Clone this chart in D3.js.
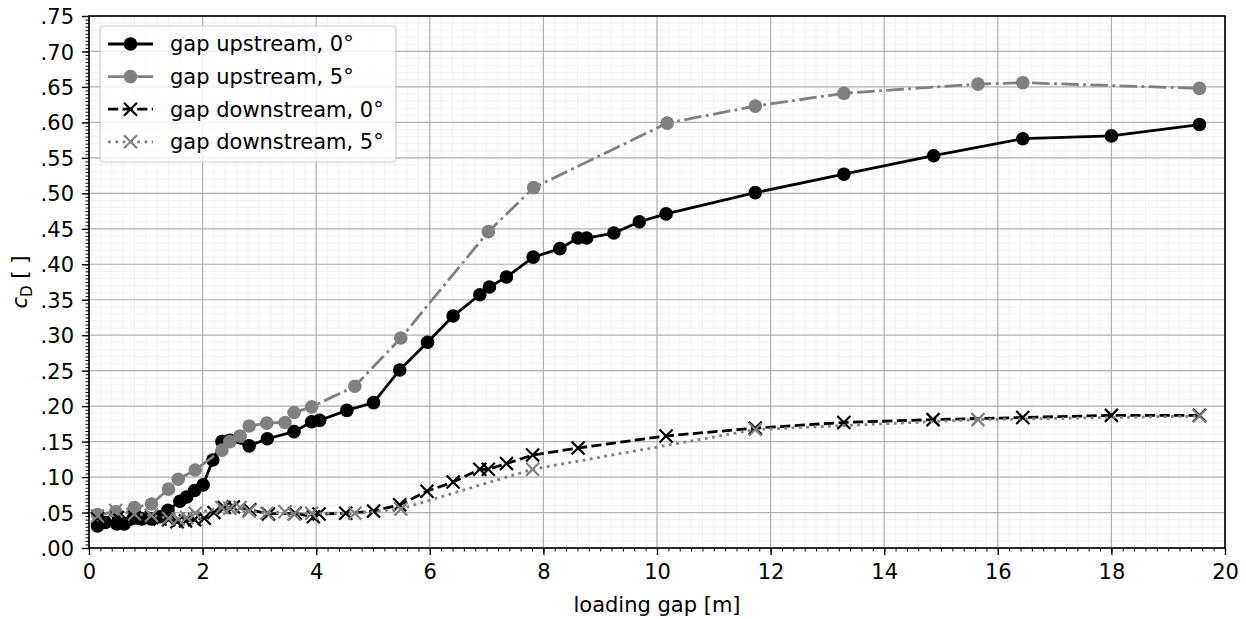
<!DOCTYPE html>
<html>
<head>
<meta charset="utf-8">
<script src="https://cdn.jsdelivr.net/npm/d3@7"></script>
<style>
  html, body { margin: 0; padding: 0; background: #fff; }
  svg { display: block; font-family: "DejaVu Sans", sans-serif; }
</style>
</head>
<body>
<svg id="chart" width="1246" height="619"></svg>
<script>
// Drag coefficient vs. loading gap, four configurations
const upstream0 = [
  [0.15,.031],[0.29,.036],[0.49,.034],[0.62,.034],[0.78,.042],[0.93,.041],[1.10,.041],
  [1.25,.044],[1.39,.053],[1.60,.066],[1.72,.072],[1.86,.081],[2.01,.089],[2.18,.124],
  [2.34,.150],[2.48,.152],[2.82,.144],[3.14,.154],[3.61,.164],[3.92,.178],[4.06,.180],
  [4.54,.194],[5.01,.205],[5.47,.251],[5.96,.290],[6.41,.327],[6.88,.357],[7.05,.368],
  [7.35,.382],[7.82,.410],[8.29,.422],[8.61,.437],[8.76,.437],[9.24,.444],[9.69,.460],
  [10.16,.471],[11.73,.501],[13.29,.527],[14.87,.553],[16.44,.577],[18.00,.581],[19.55,.597]
];
const upstream5 = [
  [0.15,.047],[0.47,.051],[0.80,.057],[1.10,.062],[1.40,.083],[1.57,.097],[1.87,.110],
  [2.34,.138],[2.48,.150],[2.66,.158],[2.82,.172],[3.13,.176],[3.45,.177],[3.61,.191],
  [3.92,.199],[4.68,.228],[5.49,.296],[7.03,.446],[7.83,.508],[10.18,.599],[11.73,.623],
  [13.29,.641],[15.65,.654],[16.44,.656],[19.55,.648]
];
const downstream0 = [
  [0.15,.042],[0.30,.040],[0.50,.043],[0.65,.041],[0.80,.043],[0.95,.042],[1.10,.043],
  [1.25,.041],[1.40,.040],[1.55,.037],[1.70,.038],[1.86,.040],[2.03,.042],[2.20,.050],
  [2.38,.057],[2.54,.058],[2.83,.054],[3.16,.048],[3.63,.049],[3.95,.044],[4.05,.048],
  [4.52,.049],[5.01,.052],[5.47,.061],[5.95,.080],[6.41,.093],[6.88,.111],[7.03,.111],
  [7.35,.119],[7.81,.131],[8.61,.141],[10.16,.158],[11.73,.169],[13.29,.177],[14.86,.181],
  [16.44,.184],[18.00,.187],[19.55,.187]
];
const downstream5 = [
  [0.15,.045],[0.47,.053],[0.80,.048],[1.10,.046],[1.40,.042],[1.57,.041],[1.72,.043],
  [1.87,.049],[2.34,.057],[2.48,.056],[2.66,.057],[2.82,.052],[3.13,.049],[3.45,.051],
  [3.61,.048],[3.92,.049],[4.68,.049],[5.49,.055],[7.81,.111],[11.73,.167],[15.65,.181],
  [19.55,.186]
];

const seriesNames = ["gap upstream, 0°", "gap upstream, 5°", "gap downstream, 0°", "gap downstream, 5°"];
const xTickValues = d3.range(0, 21, 2);
const yTickValues = d3.range(0, 16).map(i => i * 0.05);

const styles = [
  { data: upstream0,   color: "#000000", dash: null,              marker: "circle" },
  { data: upstream5,   color: "#808080", dash: "17.6,4.4,2.8,4.4", marker: "circle" },
  { data: downstream0, color: "#000000", dash: "10.2,4.4",        marker: "x" },
  { data: downstream5, color: "#808080", dash: "2.8,4.5",         marker: "x" }
];

const FONT = "21px";
const svg = d3.select("#chart");
const m = { left: 89, right: 1225, top: 16, bottom: 548 };

const x = d3.scaleLinear().domain([0, 20]).range([m.left, m.right]);
const y = d3.scaleLinear().domain([0, 0.75]).range([m.bottom, m.top]);

// minor grid
const gMinor = svg.append("g");
d3.range(0, 101).map(i => i * 0.2).forEach(v => {
  gMinor.append("line").attr("x1", x(v)).attr("x2", x(v)).attr("y1", m.top).attr("y2", m.bottom)
    .attr("stroke", "#eeeeee").attr("stroke-width", 0.8);
});
d3.range(0, 76).map(i => i * 0.01).forEach(v => {
  gMinor.append("line").attr("x1", m.left).attr("x2", m.right).attr("y1", y(v)).attr("y2", y(v))
    .attr("stroke", "#eeeeee").attr("stroke-width", 0.8);
});

// major grid
const gMajor = svg.append("g");
xTickValues.forEach(v => {
  gMajor.append("line").attr("x1", x(v)).attr("x2", x(v)).attr("y1", m.top).attr("y2", m.bottom)
    .attr("stroke", "#b0b0b0").attr("stroke-width", 1.2);
});
yTickValues.forEach(v => {
  gMajor.append("line").attr("x1", m.left).attr("x2", m.right).attr("y1", y(v)).attr("y2", y(v))
    .attr("stroke", "#b0b0b0").attr("stroke-width", 1.2);
});

// series
const line = d3.line().x(d => x(d[0])).y(d => y(d[1]));
const xMark = s => `M${-s},${-s}L${s},${s}M${-s},${s}L${s},${-s}`;

function drawMarker(g, marker, color, px, py) {
  if (marker === "circle") {
    g.append("circle").attr("cx", px).attr("cy", py).attr("r", 6.8).attr("fill", color);
  } else {
    g.append("path").attr("d", xMark(6.5)).attr("transform", `translate(${px},${py})`)
      .attr("fill", "none").attr("stroke", color).attr("stroke-width", 2.2);
  }
}

styles.forEach(s => {
  const g = svg.append("g");
  g.append("path").datum(s.data).attr("d", line)
    .attr("fill", "none").attr("stroke", s.color).attr("stroke-width", 2.8)
    .attr("stroke-dasharray", s.dash);
  s.data.forEach(d => drawMarker(g, s.marker, s.color, x(d[0]), y(d[1])));
});

// axes
const fmtY = v => d3.format(".2f")(v).replace(/^0/, "");
const xAxis = d3.axisBottom(x).tickValues(xTickValues).tickSize(7).tickPadding(9).tickFormat(d3.format("d"));
const yAxis = d3.axisLeft(y).tickValues(yTickValues).tickSize(7).tickPadding(8).tickFormat(fmtY);
const xMinor = d3.axisBottom(x).tickValues(d3.range(0, 101).map(i => i * 0.2)).tickSize(3.5).tickFormat("");
const yMinor = d3.axisLeft(y).tickValues(d3.range(0, 151).map(i => i * 0.005)).tickSize(3.5).tickFormat("");

function styleAxis(g) {
  g.select(".domain").remove();
  g.selectAll("line").attr("stroke", "#000").attr("stroke-width", 1.4);
  g.selectAll("text").attr("fill", "#000").style("font-size", FONT).style("font-family", "DejaVu Sans");
}

svg.append("g").attr("transform", `translate(0,${m.bottom})`).call(xMinor).call(styleAxis)
  .selectAll("line").attr("stroke-width", 1);
svg.append("g").attr("transform", `translate(${m.left},0)`).call(yMinor).call(styleAxis)
  .selectAll("line").attr("stroke-width", 1);
svg.append("g").attr("transform", `translate(0,${m.bottom})`).call(xAxis).call(styleAxis);
svg.append("g").attr("transform", `translate(${m.left},0)`).call(yAxis).call(styleAxis)
  .selectAll("text").attr("dy", "0.36em");

// frame
svg.append("rect").attr("x", m.left).attr("y", m.top).attr("width", m.right - m.left).attr("height", m.bottom - m.top)
  .attr("fill", "none").attr("stroke", "#000").attr("stroke-width", 1.6);

// axis labels
svg.append("text").attr("x", (m.left + m.right) / 2).attr("y", 612).attr("text-anchor", "middle")
  .style("font-size", FONT).text("loading gap [m]");

const yl = svg.append("text").attr("transform", `translate(27,${(m.top + m.bottom) / 2}) rotate(-90)`)
  .attr("text-anchor", "middle").style("font-size", FONT);
yl.append("tspan").style("font-style", "italic").text("c");
yl.append("tspan").attr("dy", 5).style("font-size", "15px").text("D");
yl.append("tspan").attr("dy", -5).text(" [ ]");

// legend
const lg = svg.append("g");
lg.append("rect").attr("x", 100).attr("y", 26).attr("width", 296).attr("height", 136).attr("rx", 4)
  .attr("fill", "#fff").attr("fill-opacity", 0.8).attr("stroke", "#d0d0d0").attr("stroke-width", 1.2);
seriesNames.forEach((name, i) => {
  const s = styles[i];
  const cy = 44 + i * 32.6;
  lg.append("line").attr("x1", 108).attr("x2", 153).attr("y1", cy).attr("y2", cy)
    .attr("stroke", s.color).attr("stroke-width", 2.8).attr("stroke-dasharray", s.dash);
  drawMarker(lg, s.marker, s.color, 130.5, cy);
  lg.append("text").attr("x", 170).attr("y", cy).attr("dy", "0.35em")
    .style("font-size", FONT).text(name);
});
</script>
</body>
</html>
